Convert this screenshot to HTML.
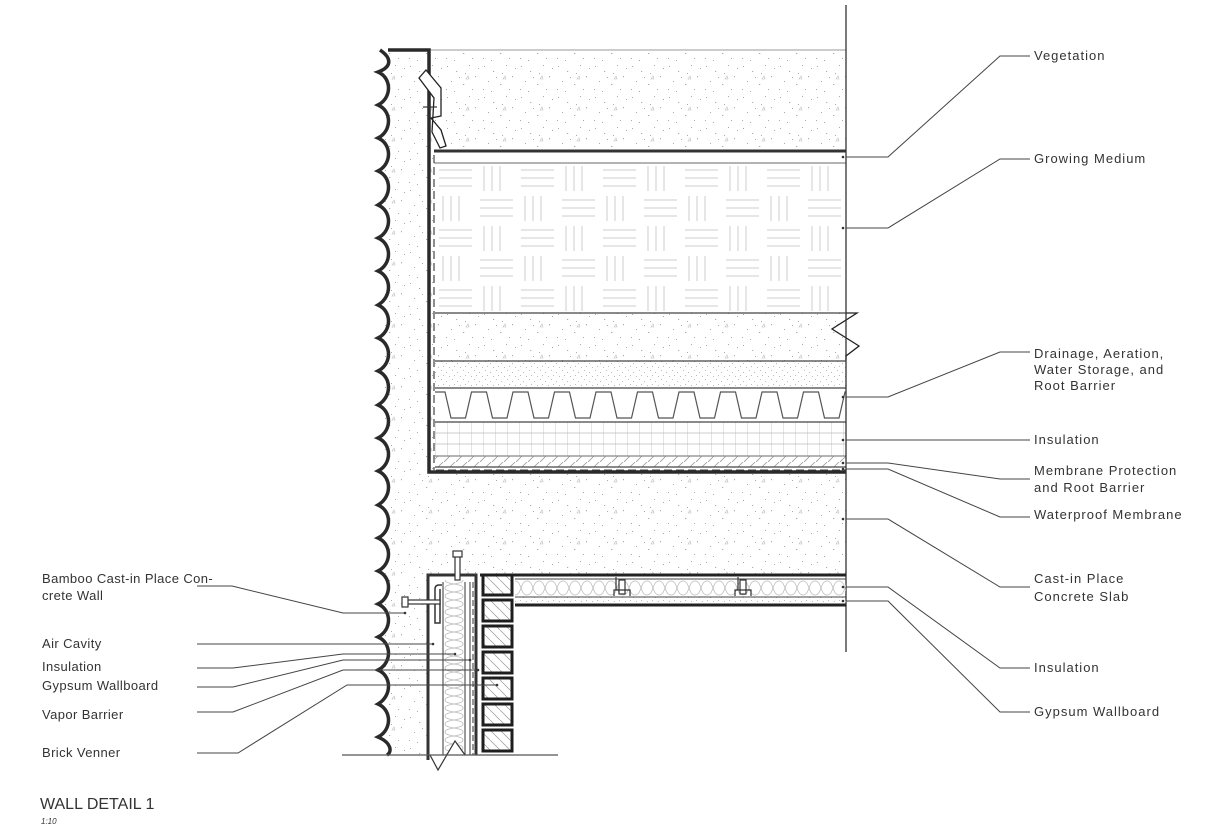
<!DOCTYPE html>
<html><head><meta charset="utf-8"><style>
html,body{margin:0;padding:0;background:#fff;}
svg{display:block;}
text{font-family:"Liberation Sans",sans-serif;fill:#333;}
</style></head><body>
<svg width="1224" height="839" viewBox="0 0 1224 839" xmlns="http://www.w3.org/2000/svg">
<defs>
<clipPath id="roofclip"><rect x="435" y="380" width="411" height="50"/></clipPath>
<pattern id="stip" width="37" height="31" patternUnits="userSpaceOnUse">
<g fill="#aaa">
<rect x="3" y="4" width="1" height="1"/><rect x="12" y="9" width="1.2" height="1"/><rect x="25" y="3" width="1" height="1"/><rect x="31" y="14" width="1" height="1.2"/><rect x="7" y="19" width="1" height="1"/><rect x="19" y="22" width="1.3" height="1"/><rect x="28" y="27" width="1" height="1"/><rect x="15" y="15" width="1" height="1"/><rect x="2" y="27" width="1" height="1"/><rect x="34" y="6" width="1" height="1"/><rect x="21" y="11" width="1" height="1"/><rect x="10" y="29" width="1" height="1"/>
</g>
<path d="M22 17 l2 -3 l1 3z" fill="none" stroke="#bbb" stroke-width="0.6"/>
</pattern>
<pattern id="fine" width="11" height="9" patternUnits="userSpaceOnUse">
<g fill="#bbb"><rect x="1" y="1" width="1" height="1"/><rect x="6" y="3" width="1" height="1"/><rect x="3" y="6" width="1" height="1"/><rect x="9" y="7" width="1" height="1"/></g>
</pattern>
<pattern id="weave" x="435" y="163" width="82" height="60" patternUnits="userSpaceOnUse">
<g stroke="#ccc" stroke-width="1" fill="none">
<path d="M4 7h33M4 15h33M4 23h33"/>
<path d="M49 3v25M57 3v25M65 3v25"/>
<path d="M8 33v25M16 33v25M24 33v25"/>
<path d="M45 37h33M45 45h33M45 53h33"/>
</g>
</pattern>
<pattern id="grid" x="435" y="422" width="12" height="34" patternUnits="userSpaceOnUse">
<path d="M0 0v34M0 11h12M0 22h12" stroke="#bbb" stroke-width="0.8" fill="none"/>
</pattern>
<pattern id="hatch" width="12" height="11" patternUnits="userSpaceOnUse">
<path d="M0 11L11 0" stroke="#999" stroke-width="0.8"/>
</pattern>
<pattern id="insV" x="443" y="580" width="22" height="16" patternUnits="userSpaceOnUse">
<path d="M2 0C2 5 20 3 20 8C20 13 2 11 2 16M20 0C20 5 2 3 2 8C2 13 20 11 20 16" stroke="#bbb" stroke-width="0.8" fill="none"/>
</pattern>
<pattern id="insH" x="515" y="579" width="24" height="18" patternUnits="userSpaceOnUse">
<path d="M0 2C7 2 5 16 12 16C19 16 17 2 24 2M0 16C7 16 5 2 12 2C19 2 17 16 24 16" stroke="#bbb" stroke-width="0.8" fill="none"/>
</pattern>
<pattern id="bh" width="10" height="10" patternUnits="userSpaceOnUse">
<path d="M0 0L10 10" stroke="#999" stroke-width="0.7"/>
</pattern>
</defs>

<rect x="384" y="50" width="462" height="705" fill="url(#stip)"/>
<line x1="430" y1="50" x2="846" y2="50" stroke="#ccc" stroke-width="2"/>
<rect x="434" y="151" width="412" height="321" fill="#fff"/>
<rect x="428" y="574" width="418" height="190" fill="#fff"/>
<rect x="846" y="0" width="378" height="839" fill="#fff"/>
<rect x="515" y="605" width="331" height="160" fill="#fff"/>

<rect x="435" y="163" width="411" height="150" fill="url(#weave)"/>
<rect x="435" y="313" width="411" height="48" fill="url(#stip)"/>
<rect x="435" y="361" width="411" height="27" fill="url(#fine)"/>
<rect x="435" y="422" width="411" height="34" fill="url(#grid)"/>
<rect x="435" y="456" width="411" height="11" fill="url(#hatch)"/>
<g stroke="#444" stroke-width="1.2" fill="none">
<line x1="434" y1="163" x2="846" y2="163" stroke="#888"/>
<line x1="435" y1="313" x2="846" y2="313"/>
<line x1="435" y1="361" x2="846" y2="361"/>
<line x1="435" y1="388" x2="846" y2="388"/>
<line x1="435" y1="422" x2="846" y2="422"/>
<line x1="435" y1="456" x2="846" y2="456" stroke="#888"/>
<line x1="435" y1="467" x2="846" y2="467"/>
<path clip-path="url(#roofclip)" d="M435 392h10l6 26h14.5l6-26h15l6 26h14.5l6-26h15l6 26h14.5l6-26h15l6 26h14.5l6-26h15l6 26h14.5l6-26h15l6 26h14.5l6-26h15l6 26h14.5l6-26h15l6 26h14.5l6-26h15l6 26h14.5l6-26h15l6 26h14.5l6-26h15l6 26h14.5l6-26h15" stroke="#555"/>
</g>
<line x1="436" y1="470" x2="846" y2="470" stroke="#444" stroke-width="1" stroke-dasharray="8,4"/>
<line x1="434" y1="155" x2="434" y2="470" stroke="#444" stroke-width="1.2" stroke-dasharray="8,4"/>
<line x1="434" y1="151" x2="846" y2="151" stroke="#333" stroke-width="3"/>
<path d="M388 50H429V472H846" stroke="#2a2a2a" stroke-width="3.5" fill="none"/>
<path d="M846 313L857 313L832 329L859 346L846 356V360" stroke="#222" stroke-width="1.3" fill="#fff"/>
<line x1="846" y1="5" x2="846" y2="652" stroke="#333" stroke-width="1.3"/>

<path d="M419 78L426 70L441 88V116L431 118L441 130L446 146L440 148L432 132L434 98Z" fill="#fff" stroke="#222" stroke-width="1.3"/>
<line x1="423" y1="107" x2="437" y2="107" stroke="#333" stroke-width="1.2"/>

<path d="M380 50 C392 58,392 67,378 72 C392 78,392 98,378 105 C392 111,392 131,378 138 C392 144,392 164,378 171 C392 177,392 197,378 205 C392 211,392 231,378 238 C392 244,392 264,378 271 C392 277,392 297,378 305 C392 311,392 331,378 338 C392 344,392 364,378 371 C392 377,392 397,378 405 C392 411,392 431,378 438 C392 444,392 464,378 471 C392 477,392 497,378 505 C392 511,392 531,378 538 C392 544,392 564,378 571 C392 577,392 597,378 604 C392 610,392 630,378 637 C392 643,392 663,378 670 C392 676,392 696,378 704 C392 710,392 730,378 737 C392 743,392 752,387 755" stroke="#2a2a2a" stroke-width="3.5" fill="none"/>

<rect x="515" y="579" width="331" height="18" fill="url(#insH)"/>
<rect x="515" y="597" width="331" height="7" fill="url(#fine)"/>
<g stroke="#444" stroke-width="1" fill="none">
<line x1="515" y1="579" x2="846" y2="579"/>
<line x1="515" y1="597" x2="846" y2="597"/>
</g>
<line x1="480" y1="575" x2="846" y2="575" stroke="#222" stroke-width="3"/>
<line x1="515" y1="605" x2="846" y2="605" stroke="#222" stroke-width="3"/>
<g stroke="#333" stroke-width="1.2" fill="#fff">
<path d="M616 577V590M738 577V590"/>
<rect x="619" y="580" width="6" height="14"/><rect x="740" y="580" width="6" height="14"/>
<path d="M614 596V590h16v6M735 596V590h16v6" fill="none"/>
</g>

<rect x="443" y="580" width="22" height="175" fill="url(#insV)"/>
<g stroke="#333" fill="none">
<path d="M428 760V575H476V755" stroke-width="3"/>
<line x1="443" y1="582" x2="443" y2="755" stroke-width="1"/>
<line x1="465" y1="582" x2="465" y2="755" stroke-width="1"/>
<line x1="470" y1="582" x2="470" y2="755" stroke-width="1"/>
<line x1="473" y1="582" x2="473" y2="755" stroke-width="1" stroke-dasharray="6,3"/>
<path d="M442 585h-3q-4 0-4 4V623h5V589" stroke-width="1.5" fill="#fff"/>
</g>
<rect x="455" y="552" width="5" height="28" fill="#fff" stroke="#333" stroke-width="1.2"/>
<rect x="453" y="551" width="9" height="6" fill="#fff" stroke="#333" stroke-width="1.2"/>
<rect x="404" y="600" width="36" height="4" fill="#fff" stroke="#333" stroke-width="1.2"/>
<rect x="402" y="597" width="6" height="10" fill="#fff" stroke="#333" stroke-width="1.2"/>
<path d="M430 755L438 770L455 741L465 755" stroke="#333" stroke-width="1.2" fill="#fff"/>

<g fill="url(#bh)" stroke="#1e1e1e" stroke-width="3">
<rect x="483" y="575" width="29" height="20"/>
<rect x="483" y="600" width="29" height="21"/>
<rect x="483" y="626" width="29" height="21"/>
<rect x="483" y="652" width="29" height="21"/>
<rect x="483" y="678" width="29" height="21"/>
<rect x="483" y="704" width="29" height="21"/>
<rect x="483" y="730" width="29" height="21"/>
</g>
<line x1="342" y1="755" x2="558" y2="755" stroke="#555" stroke-width="1.3"/>

<g stroke="#444" stroke-width="1" fill="none">
<path d="M846 157H888L1000 56H1030"/>
<path d="M846 228H888L1000 159H1030"/>
<path d="M846 397H888L1000 352H1030"/>
<path d="M846 440H1030"/>
<path d="M846 463H888L1000 479H1030"/>
<path d="M846 469H888L1000 517H1030"/>
<path d="M846 519H888L1000 587H1030"/>
<path d="M846 587H888L1000 668H1030"/>
<path d="M846 601H888L1000 712H1030"/>
<path d="M197 586H232L343 613H405"/>
<path d="M197 644H433"/>
<path d="M197 668H233L343 654H455"/>
<path d="M197 687H233L343 660H470"/>
<path d="M197 712H233L343 670H478"/>
<path d="M197 753H238L347 685H497"/>
</g>
<g fill="#333">
<circle cx="843" cy="157" r="1.3"/><circle cx="843" cy="228" r="1.3"/><circle cx="843" cy="397" r="1.3"/><circle cx="843" cy="440" r="1.3"/><circle cx="843" cy="463" r="1.3"/><circle cx="843" cy="469" r="1.3"/><circle cx="843" cy="519" r="1.3"/><circle cx="843" cy="587" r="1.3"/><circle cx="843" cy="601" r="1.3"/>
<circle cx="405" cy="613" r="1.3"/><circle cx="433" cy="644" r="1.3"/><circle cx="455" cy="654" r="1.3"/><circle cx="470" cy="660" r="1.3"/><circle cx="478" cy="670" r="1.3"/><circle cx="497" cy="685" r="1.3"/>
</g>

<g font-size="13" letter-spacing="1">
<text x="1034" y="60">Vegetation</text>
<text x="1034" y="163">Growing Medium</text>
<text x="1034" y="358">Drainage, Aeration,</text>
<text x="1034" y="374">Water Storage, and</text>
<text x="1034" y="390">Root Barrier</text>
<text x="1034" y="444">Insulation</text>
<text x="1034" y="475">Membrane Protection</text>
<text x="1034" y="492">and Root Barrier</text>
<text x="1034" y="519">Waterproof Membrane</text>
<text x="1034" y="583">Cast-in Place</text>
<text x="1034" y="601">Concrete Slab</text>
<text x="1034" y="672">Insulation</text>
<text x="1034" y="716">Gypsum Wallboard</text>
</g>
<g font-size="13" letter-spacing="0.4">
<text x="42" y="583">Bamboo Cast-in Place Con-</text>
<text x="42" y="600">crete Wall</text>
<text x="42" y="648">Air Cavity</text>
<text x="42" y="671">Insulation</text>
<text x="42" y="690">Gypsum Wallboard</text>
<text x="42" y="719">Vapor Barrier</text>
<text x="42" y="757">Brick Venner</text>
</g>
<text x="40" y="809" font-size="16">WALL DETAIL 1</text>
<text x="41" y="824" font-size="8" font-style="italic">1:10</text>
</svg>
</body></html>
